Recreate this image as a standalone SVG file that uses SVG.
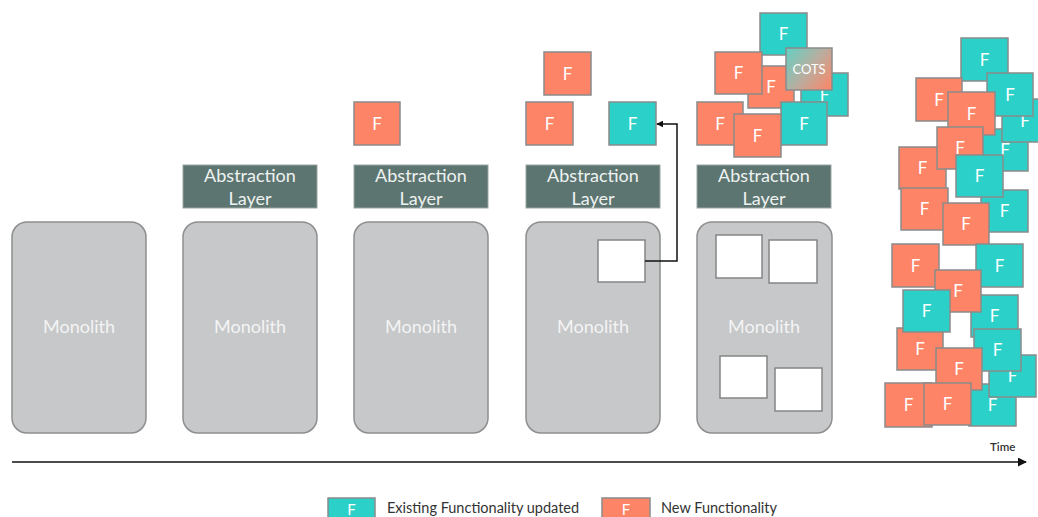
<svg xmlns="http://www.w3.org/2000/svg" width="1038" height="517" viewBox="0 0 1038 517">
  <style>
    .mono { fill: #c6c8ca; stroke: #8e8e8e; stroke-width: 1.5; }
    .mono-t { font-family: Lato, "Open Sans", sans-serif; font-size: 18px; fill: #f4f4f4; text-anchor: middle; }
    .abs { fill: #5d7570; stroke: #9aa5a2; stroke-width: 1; }
    .abs-t { font-family: Lato, "Open Sans", sans-serif; font-size: 18px; fill: #eef2f1; text-anchor: middle; }
    .hole { fill: #ffffff; stroke: #858585; stroke-width: 1.5; }
    .fo { fill: #fd8466; stroke: #8b8b8b; stroke-width: 1.5; }
    .ft { fill: #2bd1c8; stroke: #8b8b8b; stroke-width: 1.5; }
    .fc { fill: url(#cots); stroke: #8b8b8b; stroke-width: 1.5; }
    .f-t { font-family: Lato, "Open Sans", sans-serif; font-size: 17px; fill: #ffffff; text-anchor: middle; }
    .c-t { font-family: Lato, "Open Sans", sans-serif; font-size: 13px; fill: #ffffff; text-anchor: middle; }
    .lg-t { font-family: Lato, "Open Sans", sans-serif; font-size: 14.5px; fill: #333333; }
    .axis-t { font-family: Lato, "Open Sans", sans-serif; font-size: 11.5px; font-weight: 600; fill: #333333; }
    .conn { fill: none; stroke: #111111; stroke-width: 1.5; }
  </style>
  <defs>
    <linearGradient id="cots" x1="0" y1="0.15" x2="1" y2="0.85">
      <stop offset="0" stop-color="#6ccdbf"/>
      <stop offset="0.5" stop-color="#b8aea0"/>
      <stop offset="1" stop-color="#f7896c"/>
    </linearGradient>
    <marker id="arr" viewBox="0 0 10 10" refX="9" refY="5" markerWidth="7" markerHeight="7" markerUnits="userSpaceOnUse" orient="auto">
      <path d="M0,0 L10,5 L0,10 z" fill="#111111"/>
    </marker>
    <marker id="arr2" viewBox="0 0 10 10" refX="9" refY="5" markerWidth="9" markerHeight="9" markerUnits="userSpaceOnUse" orient="auto">
      <path d="M0,0 L10,5 L0,10 z" fill="#111111"/>
    </marker>
  </defs>

  <!-- monoliths -->
  <g id="mono1"><rect class="mono" x="12" y="222" width="134" height="211" rx="15"/><text class="mono-t" x="79" y="333">Monolith</text></g>
  <g id="mono2"><rect class="mono" x="183" y="222" width="134" height="211" rx="15"/><text class="mono-t" x="250" y="333">Monolith</text></g>
  <g id="mono3"><rect class="mono" x="354" y="222" width="134" height="211" rx="15"/><text class="mono-t" x="421" y="333">Monolith</text></g>
  <g id="mono4"><rect class="mono" x="526" y="222" width="134" height="211" rx="15"/><text class="mono-t" x="593" y="333">Monolith</text>
    <rect class="hole" x="598" y="240" width="47" height="42"/></g>
  <g id="mono5"><rect class="mono" x="697" y="222" width="135" height="211" rx="15"/><text class="mono-t" x="764" y="333">Monolith</text>
    <rect class="hole" x="716" y="235" width="46" height="43"/>
    <rect class="hole" x="769" y="240" width="48" height="43"/>
    <rect class="hole" x="720" y="356" width="47" height="42"/>
    <rect class="hole" x="775" y="368" width="47" height="43"/></g>

  <!-- abstraction layers -->
  <g id="abs2"><rect class="abs" x="183" y="165" width="134" height="43"/><text class="abs-t" x="250" y="182">Abstraction</text><text class="abs-t" x="250" y="204.5">Layer</text></g>
  <g id="abs3"><rect class="abs" x="354" y="165" width="134" height="43"/><text class="abs-t" x="421" y="182">Abstraction</text><text class="abs-t" x="421" y="204.5">Layer</text></g>
  <g id="abs4"><rect class="abs" x="526" y="165" width="134" height="43"/><text class="abs-t" x="593" y="182">Abstraction</text><text class="abs-t" x="593" y="204.5">Layer</text></g>
  <g id="abs5"><rect class="abs" x="697" y="165" width="134" height="43"/><text class="abs-t" x="764" y="182">Abstraction</text><text class="abs-t" x="764" y="204.5">Layer</text></g>

  <!-- stage 3 -->
  <g id="s3-f1"><rect class="fo" x="354" y="102" width="46" height="43"/><text class="f-t" x="377" y="130">F</text></g>

  <!-- stage 4 -->
  <g id="s4-f1"><rect class="fo" x="544" y="52" width="47" height="43"/><text class="f-t" x="567.5" y="80">F</text></g>
  <g id="s4-f2"><rect class="fo" x="526" y="102" width="47" height="43"/><text class="f-t" x="549.5" y="130">F</text></g>
  <g id="s4-f3"><rect class="ft" x="609" y="102" width="47" height="43"/><text class="f-t" x="632.5" y="130">F</text></g>

  <!-- stage 5 -->
  <g id="s5-f1"><rect class="fo" x="748" y="66" width="46" height="42"/><text class="f-t" x="771" y="93">F</text></g>
  <g id="s5-f2"><rect class="ft" x="801" y="73" width="47" height="43"/><text class="f-t" x="824.5" y="101">F</text></g>
  <g id="s5-f3"><rect class="ft" x="760" y="13" width="47" height="42"/><text class="f-t" x="783.5" y="40">F</text></g>
  <g id="s5-f4"><rect class="fo" x="715" y="52" width="47" height="42"/><text class="f-t" x="738.5" y="79">F</text></g>
  <g id="s5-cots"><rect class="fc" x="786" y="48" width="46" height="42"/><text class="c-t" x="809" y="74">COTS</text></g>
  <g id="s5-f5"><rect class="ft" x="781" y="102" width="46" height="43"/><text class="f-t" x="804" y="130">F</text></g>
  <g id="s5-f6"><rect class="fo" x="697" y="102" width="46" height="43"/><text class="f-t" x="720" y="130">F</text></g>
  <g id="s5-f7"><rect class="fo" x="734" y="114" width="47" height="43"/><text class="f-t" x="757.5" y="142">F</text></g>

  <!-- stage 6 -->
  <g id="s6-a"><rect class="ft" x="961" y="38" width="47" height="43"/><text class="f-t" x="984.5" y="66">F</text></g>
  <g id="s6-g"><rect class="ft" x="982" y="129" width="46" height="42"/><text class="f-t" x="1005" y="156">F</text></g>
  <g id="s6-e"><rect class="ft" x="1002" y="99" width="46" height="43"/><text class="f-t" x="1025" y="127">F</text></g>
  <g id="s6-c"><rect class="ft" x="987" y="73" width="46" height="43"/><text class="f-t" x="1010" y="101">F</text></g>
  <g id="s6-b"><rect class="fo" x="916" y="78" width="46" height="43"/><text class="f-t" x="939" y="106">F</text></g>
  <g id="s6-d"><rect class="fo" x="948" y="92" width="47" height="43"/><text class="f-t" x="971.5" y="120">F</text></g>
  <g id="s6-h"><rect class="fo" x="899" y="147" width="47" height="42"/><text class="f-t" x="922.5" y="174">F</text></g>
  <g id="s6-f"><rect class="fo" x="937" y="127" width="46" height="42"/><text class="f-t" x="960" y="154">F</text></g>
  <g id="s6-k"><rect class="ft" x="981" y="190" width="47" height="42"/><text class="f-t" x="1004.5" y="217">F</text></g>
  <g id="s6-i"><rect class="ft" x="956" y="155" width="47" height="42"/><text class="f-t" x="979.5" y="182">F</text></g>
  <g id="s6-j"><rect class="fo" x="901" y="188" width="47" height="42"/><text class="f-t" x="924.5" y="215">F</text></g>
  <g id="s6-l"><rect class="fo" x="943" y="203" width="46" height="42"/><text class="f-t" x="966" y="230">F</text></g>
  <g id="s6-n"><rect class="ft" x="976" y="244" width="47" height="43"/><text class="f-t" x="999.5" y="272">F</text></g>
  <g id="s6-m"><rect class="fo" x="892" y="244" width="47" height="43"/><text class="f-t" x="915.5" y="272">F</text></g>
  <g id="s6-q"><rect class="ft" x="971" y="295" width="47" height="42"/><text class="f-t" x="994.5" y="322">F</text></g>
  <g id="s6-o"><rect class="fo" x="935" y="270" width="46" height="42"/><text class="f-t" x="958" y="297">F</text></g>
  <g id="s6-r"><rect class="fo" x="897" y="328" width="46" height="42"/><text class="f-t" x="920" y="355">F</text></g>
  <g id="s6-p"><rect class="ft" x="903" y="290" width="47" height="42"/><text class="f-t" x="926.5" y="317">F</text></g>
  <g id="s6-v"><rect class="ft" x="969" y="384" width="47" height="42"/><text class="f-t" x="992.5" y="411">F</text></g>
  <g id="s6-t"><rect class="ft" x="989" y="355" width="47" height="42"/><text class="f-t" x="1012.5" y="382">F</text></g>
  <g id="s6-s"><rect class="ft" x="974" y="329" width="47" height="42"/><text class="f-t" x="997.5" y="356">F</text></g>
  <g id="s6-u"><rect class="fo" x="936" y="348" width="46" height="42"/><text class="f-t" x="959" y="375">F</text></g>
  <g id="s6-w"><rect class="fo" x="885" y="383" width="47" height="44"/><text class="f-t" x="908.5" y="411">F</text></g>
  <g id="s6-x"><rect class="fo" x="924" y="383" width="47" height="42"/><text class="f-t" x="947.5" y="410">F</text></g>

  <!-- connectors -->
  <g id="connectors">
    <path class="conn" d="M645,261 H677 V124 H657" marker-end="url(#arr)"/>
    <line class="conn" x1="12" y1="462" x2="1026" y2="462" marker-end="url(#arr2)"/>
  </g>
  <text class="axis-t" x="990" y="451">Time</text>

  <!-- legend -->
  <g id="legend-existing"><rect class="ft" x="328" y="498" width="47" height="30"/><text class="f-t" x="351.5" y="515" style="font-size:15px">F</text>
    <text class="lg-t" x="387" y="513">Existing Functionality updated</text></g>
  <g id="legend-new"><rect class="fo" x="602" y="498" width="48" height="30"/><text class="f-t" x="626" y="515" style="font-size:15px">F</text>
    <text class="lg-t" x="661" y="513">New Functionality</text></g>
</svg>
